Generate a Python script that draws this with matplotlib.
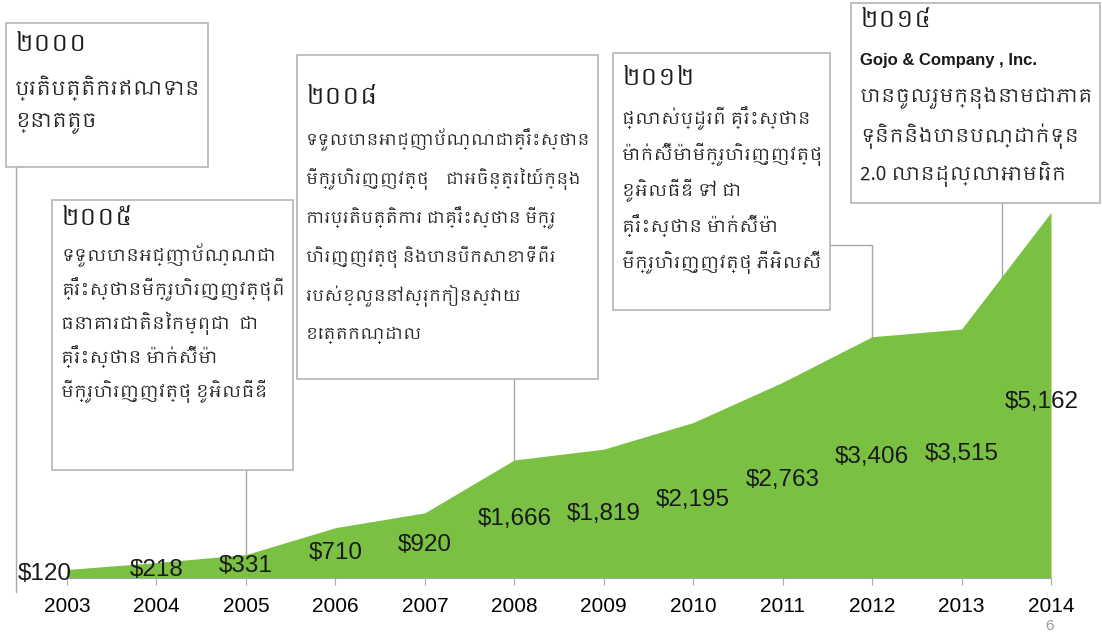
import matplotlib
matplotlib.use("Agg")
import matplotlib.pyplot as plt
import numpy as np
from matplotlib import font_manager
from matplotlib.lines import Line2D
from matplotlib.patches import Rectangle

# data
years = [2003, 2004, 2005, 2006, 2007, 2008, 2009, 2010, 2011, 2012, 2013, 2014]
assets = [120, 218, 331, 710, 920, 1666, 1819, 2195, 2763, 3406, 3515, 5162]
value_labels = [f"${v:,}" for v in assets]

milestone_titles = ["២០០០", "២០០៥", "២០០៨", "២០១២", "២០១៤"]
milestone_text = [
    ["ប្រតិបត្តិករឥណទាន", "ខ្នាតតូច"],
    ["ទទួលបានអជ្ញាប័ណ្ណជា", "គ្រឹះស្ថានមីក្រូហិរញ្ញវត្ថុពី",
     "ធនាគារជាតិនៃកម្ពុជា  ជា", "គ្រឹះស្ថាន ម៉ាក់ស៊ីម៉ា",
     "មីក្រូហិរញ្ញវត្ថុ ខូអិលធីឌី"],
    ["ទទួលបានអាជ្ញាប័ណ្ណជាគ្រឹះស្ថាន", "មីក្រូហិរញ្ញវត្ថុ    ជាអចិន្ត្រៃយ៍ក្នុង",
     "ការប្រតិបត្តិការ ជាគ្រឹះស្ថាន មីក្រូ", "ហិរញ្ញវត្ថុ និងបានបើកសាខាទីពីរ",
     "របស់ខ្លួននៅស្រុកកៀនស្វាយ", "ខេត្តកណ្ដាល"],
    ["ផ្លាស់ប្ដូរពី គ្រឹះស្ថាន", "ម៉ាក់ស៊ីម៉ាមីក្រូហិរញ្ញវត្ថុ", "ខូអិលធីឌី ទៅ ជា",
     "គ្រឹះស្ថាន ម៉ាក់ស៊ីម៉ា", "មីក្រូហិរញ្ញវត្ថុ ភីអិលស៊ី"],
    ["Gojo & Company , Inc.", "បានចូលរួមក្នុងនាមជាភាគ", "ទុនិកនិងបានបណ្ដាក់ទុន",
     "2.0 លានដុល្លាអាមេរិក"],
]
bold_lines = {(3, 3), (3, 4), (4, 0)}

# layout in pixels (x0, y0, x1, y1 from top-left), text start and line step
W, H = 1102, 636
boxes = [(6, 23, 208, 167), (52, 200, 293, 470), (297, 55, 598, 379),
         (613, 53, 830, 310), (851, 3, 1100, 203)]
title_y = [44, 218, 97, 78, 20]
first_line_y = [88, 255, 140, 118, 60]
line_step = [35, 34, 39, 36, 38]

green = "#7ac143"
edge = "#b4b4b4"
khmer = [f.name for f in font_manager.fontManager.ttflist if "khmer" in f.name.lower()]
kfam = [khmer[0], "DejaVu Sans"] if khmer else ["DejaVu Sans"]
latin = ["Liberation Sans", "DejaVu Sans"]

fig = plt.figure(figsize=(W / 100, H / 100), dpi=100)
fig.patch.set_facecolor("white")

base_px, x0_px, x1_px = 578, 67, 1051
ax = fig.add_axes([x0_px / W, (H - base_px) / H, (x1_px - x0_px) / W, 425 / H])
ax.fill_between(years, assets, 0, color=green, lw=0, zorder=2)
ax.set_xlim(years[0], years[-1])
ax.set_ylim(0, 6000)
ax.set_yticks([])
for s in ["left", "right", "top"]:
    ax.spines[s].set_visible(False)
ax.spines["bottom"].set_color("#a8a8a8")
ax.spines["bottom"].set_linewidth(0.8)
ax.spines["bottom"].set_zorder(3)
ax.set_xticks(years)
ax.set_xticklabels([str(y) for y in years], family=latin, fontsize=15)
ax.tick_params(axis="x", direction="out", length=5, color="#a8a8a8", pad=9)
ax.patch.set_alpha(0)

for i, (yr, v, lab) in enumerate(zip(years, assets, value_labels)):
    dx = -16 if i == 0 else (-7 if i == len(years) - 1 else 0)
    dy = -5 if i == len(years) - 1 else 0
    ax.annotate(lab, (yr, v / 2), xytext=(dx, dy), textcoords="offset points",
                ha="center", va="center", fontsize=17.5, family=latin,
                color="#1a1a1a", zorder=5, annotation_clip=False)


def fx(x):
    return x / W


def fy(y):
    return 1 - y / H


def px_to_data(xp, yp):
    return ax.transData.inverted().transform((xp, H - yp))


# leader lines
lc = dict(color="#a8a8a8", lw=1.0, zorder=1, clip_on=False)
fig.add_artist(Line2D([fx(16), fx(16)], [fy(167), fy(592)], **lc))
for k, yr in [(1, 2005), (2, 2008)]:
    top = px_to_data(0, boxes[k][3])[1]
    ax.plot([yr, yr], [top, assets[years.index(yr)]], **lc)
x_elbow, y_elbow = px_to_data(boxes[3][2], 245)
ax.plot([x_elbow, 2012, 2012], [y_elbow, y_elbow, assets[years.index(2012)]], **lc)
x14 = 2013.45
ax.plot([x14, x14], [px_to_data(0, boxes[4][3])[1], np.interp(x14, years, assets)], **lc)

# milestone boxes
body = []
for k, (bx0, by0, bx1, by1) in enumerate(boxes):
    fig.add_artist(Rectangle((fx(bx0), fy(by1)), fx(bx1 - bx0), (by1 - by0) / H,
                             transform=fig.transFigure, facecolor="white",
                             edgecolor=edge, lw=1.2, zorder=4))
    tx = fx(bx0 + 9)
    fig.text(tx, fy(title_y[k]), milestone_titles[k], family=kfam, fontsize=17,
             fontweight="bold", va="center", ha="left", color="#1a1a1a", zorder=6)
    lines = []
    for j, line in enumerate(milestone_text[k]):
        yy = fy(first_line_y[k] + j * line_step[k])
        if line.isascii():
            t = fig.text(tx, yy, line, family=latin, fontsize=13, fontweight="bold",
                         va="center", ha="left", color="#1a1a1a", zorder=6)
        else:
            t = fig.text(tx, yy, line, family=kfam, fontsize=15,
                         fontweight="bold" if (k, j) in bold_lines else "normal",
                         va="center", ha="left", color="#262626", zorder=6)
        lines.append(t)
    body.append((lines, bx1 - bx0 - 16))

fig.text(fx(1050), fy(626), "6", family=latin, fontsize=11, color="#9a9a9a",
         ha="center", va="center")

# shrink each box's lines so they stay inside the frame
fig.canvas.draw()
renderer = fig.canvas.get_renderer()
for lines, maxw in body:
    scale = min(1.0, min(maxw / t.get_window_extent(renderer).width for t in lines))
    for t in lines:
        t.set_fontsize(t.get_fontsize() * scale)

fig.savefig("out.png", dpi=100, facecolor="white")
plt.close(fig)
